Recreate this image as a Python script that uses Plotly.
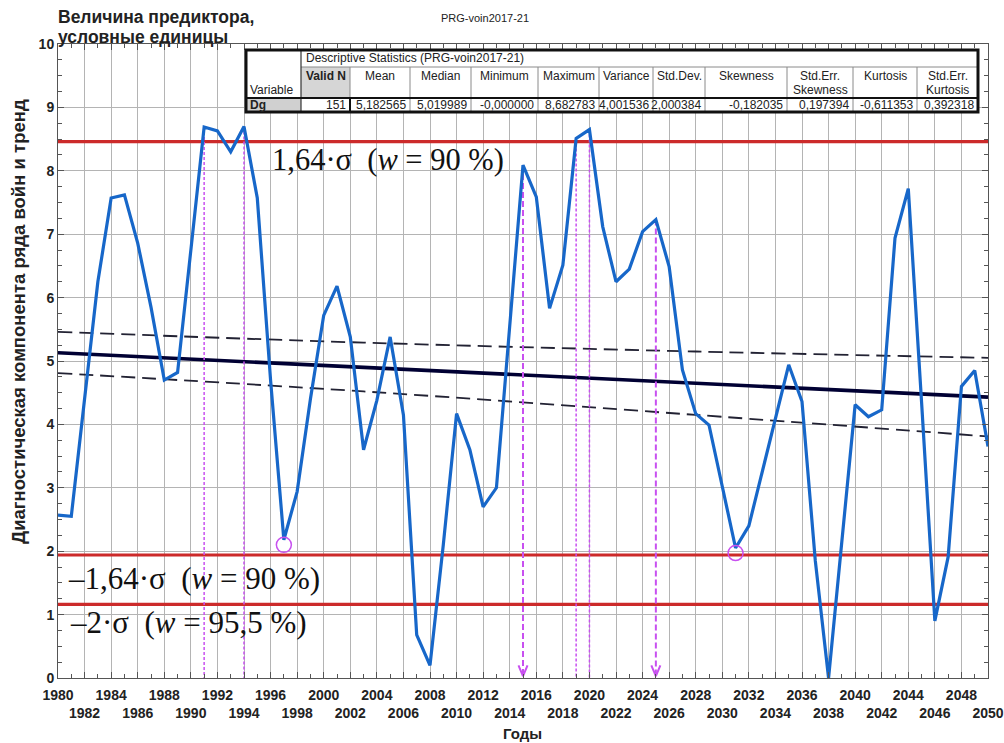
import plotly.graph_objects as go

# ---------------- data ----------------
years = list(range(1980, 2051))
values = [2.57, 2.55, 4.40, 6.25, 7.57, 7.62, 6.86, 5.85, 4.70, 4.82,
          6.75, 8.69, 8.63, 8.30, 8.70, 7.57, 4.70, 2.18, 2.94, 4.40,
          5.72, 6.18, 5.38, 3.60, 4.38, 5.38, 4.15, 0.68, 0.20, 2.10,
          4.17, 3.60, 2.70, 3.00, 5.55, 8.09, 7.59, 5.83, 6.51, 8.51,
          8.65, 7.12, 6.25, 6.45, 7.04, 7.23, 6.49, 4.86, 4.17, 3.99,
          3.02, 2.05, 2.40, 3.25, 4.09, 4.94, 4.36, 1.85, 0.00, 2.15,
          4.31, 4.12, 4.23, 6.94, 7.72, 4.35, 0.90, 1.91, 4.60, 4.85,
          3.65]

trend_x = [1980, 2050]
trend_y = [5.13, 4.43]
band_x = [1980, 2003, 2028, 2050]
band_upper = [5.46, 5.29, 5.15, 5.05]
band_lower = [4.81, 4.52, 4.15, 3.81]

sigma_levels = [8.46, 1.94, 1.16]
sigma_labels = ["1,64·σ\u00a0\u00a0(<i>w</i> = 90 %)",
                "–1,64·σ\u00a0\u00a0(<i>w</i> = 90 %)",
                "–2·σ\u00a0\u00a0(<i>w</i> = 95,5 %)"]

dotted_years = [1991, 1994, 2019, 2020]
arrow_years = [2015, 2025]
circle_years = [1997, 2031]
circle_vals = [2.10, 1.97]

x_tick_vals = list(range(1980, 2051, 2))
x_tick_text = [str(v) if i % 2 == 0 else "<br>" + str(v) for i, v in enumerate(x_tick_vals)]

table_cols = [246, 301, 350, 410, 471, 538, 599, 653, 705, 787, 853, 917, 978]
table_headers = ["Variable", "Valid N", "Mean", "Median", "Minimum", "Maximum", "Variance",
                 "Std.Dev.", "Skewness", "Std.Err.|Skewness", "Kurtosis", "Std.Err.|Kurtosis"]
table_values = ["Dg", "151", "5,182565", "5,019989", "-0,000000", "8,682783", "4,001536",
                "2,000384", "-0,182035", "0,197394", "-0,611353", "0,392318"]

# ---------------- geometry helpers ----------------
W, H = 1004, 743
L, R, T, B = 58, 988, 44, 678


def PX(p):
    return (p - L) / (R - L)


def PY(p):
    return (B - p) / (B - T)


val_of = dict(zip(years, values))
MAG = "#c850f0"
BLUE = "#1767c9"
RED = "#cc2a2a"

fig = go.Figure()

# sigma lines
for lv in sigma_levels:
    fig.add_trace(go.Scatter(x=[years[0], years[-1]], y=[lv, lv], mode="lines",
                             line=dict(color=RED, width=3.2), hoverinfo="skip", showlegend=False))

# trend and band
for band in (band_upper, band_lower):
    fig.add_trace(go.Scatter(x=band_x, y=band, mode="lines",
                             line=dict(color="#222233", width=1.8, dash="14px,7px", shape="spline"),
                             showlegend=False))
fig.add_trace(go.Scatter(x=trend_x, y=trend_y, mode="lines", line=dict(color="#000033", width=3.6), showlegend=False))

# magenta verticals
for yr in dotted_years:
    fig.add_trace(go.Scatter(x=[yr, yr], y=[val_of[yr], 0], mode="lines",
                             line=dict(color=MAG, width=1.5, dash="3px,2px"), showlegend=False))
for yr in arrow_years:
    fig.add_trace(go.Scatter(x=[yr, yr], y=[val_of[yr], 0.04], mode="lines",
                             line=dict(color=MAG, width=2, dash="6px,3px"), showlegend=False))
    fig.add_trace(go.Scatter(x=[yr - 0.34, yr, yr + 0.34], y=[0.2, 0.03, 0.2], mode="lines",
                             line=dict(color=MAG, width=2), showlegend=False))

# main series
fig.add_trace(go.Scatter(x=years, y=values, mode="lines", line=dict(color=BLUE, width=3.2), showlegend=False))

# circles
fig.add_trace(go.Scatter(x=circle_years, y=circle_vals, mode="markers",
                         marker=dict(symbol="circle-open", size=15, color=MAG, line=dict(width=1.5, color=MAG)),
                         showlegend=False))

tickfont = dict(family="Liberation Sans", size=14, color="#222", weight="bold")
fig.update_layout(
    width=W, height=H,
    margin=dict(l=L, r=W - R, t=T, b=H - B, autoexpand=False),
    paper_bgcolor="white", plot_bgcolor="white",
    xaxis=dict(range=[1980, 2050], tickvals=x_tick_vals, ticktext=x_tick_text, tickfont=tickfont,
               tickangle=0, automargin=False, ticklabelstandoff=4,
               showgrid=True, gridcolor="#b4b4b4", gridwidth=1, zeroline=False,
               showline=True, linecolor="#555", linewidth=1, mirror="ticks",
               ticks="inside", ticklen=6, tickcolor="#555",
               minor=dict(dtick=1, ticks="inside", ticklen=4, tickcolor="#555", showgrid=False)),
    yaxis=dict(range=[0, 10], dtick=1, tickfont=tickfont, automargin=False,
               showgrid=True, gridcolor="#b4b4b4", gridwidth=1, zeroline=False,
               showline=True, linecolor="#555", linewidth=1, mirror="ticks",
               ticks="inside", ticklen=6, tickcolor="#555",
               minor=dict(dtick=0.25, ticks="inside", ticklen=4, tickcolor="#555", showgrid=False)),
)

ann = []
# sigma labels
sig_pos = [(270, 160), (66, 578), (68, 622)]
sig_size = [30.5, 31, 31]
for (px, py), txt, sz in zip(sig_pos, sigma_labels, sig_size):
    ann.append(dict(x=PX(px), y=PY(py), xref="paper", yref="paper", text=txt, showarrow=False,
                    xanchor="left", yanchor="middle",
                    font=dict(family="Liberation Serif", size=sz, color="#111")))

# titles
ann.append(dict(x=PX(485), y=PY(18), xref="paper", yref="paper", text="PRG-voin2017-21", showarrow=False,
                xanchor="center", yanchor="middle", font=dict(family="Liberation Sans", size=11, color="#222")))
for txt, cy in (("Величина предиктора,", 17), ("условные единицы", 37)):
    ann.append(dict(x=PX(56), y=PY(cy), xref="paper", yref="paper", text=txt, showarrow=False,
                    xanchor="left", yanchor="middle",
                    font=dict(family="Liberation Sans", size=17.5, color="#222", weight="bold")))
ann.append(dict(x=PX(522), y=PY(734), xref="paper", yref="paper", text="Годы", showarrow=False,
                xanchor="center", yanchor="middle",
                font=dict(family="Liberation Sans", size=15, color="#222", weight="bold")))
ann.append(dict(x=PX(18), y=PY(322), xref="paper", yref="paper",
                text="Диагностическая компонента ряда войн и тренд", showarrow=False, textangle=-90,
                xanchor="center", yanchor="middle",
                font=dict(family="Liberation Sans", size=18.5, color="#222", weight="bold")))

# ---------------- table ----------------
shapes = []
TT, TH, TD, TB = 50, 67, 98, 112


def rect(x0, y0, x1, y1, fill, lc="rgba(0,0,0,0)", lw=0):
    shapes.append(dict(type="rect", xref="paper", yref="paper", x0=PX(x0), x1=PX(x1), y0=PY(y1), y1=PY(y0),
                       fillcolor=fill, line=dict(color=lc, width=lw), layer="above"))


def line(x0, y0, x1, y1, color="#8a8a8a", w=1):
    shapes.append(dict(type="line", xref="paper", yref="paper", x0=PX(x0), x1=PX(x1), y0=PY(y0), y1=PY(y1),
                       line=dict(color=color, width=w), layer="above"))


rect(table_cols[0], TT, table_cols[-1], TB, "white")
rect(table_cols[1], TH, table_cols[2], TD, "#d6d6d6")
rect(table_cols[0], TD, table_cols[1], TB, "#d0d0d0")
line(table_cols[1], TH, table_cols[-1], TH)
line(table_cols[1], TT, table_cols[1], TB, "#333", 1.2)
for cx in table_cols[2:-1]:
    line(cx, TH, cx, TB)
line(table_cols[2], TD, table_cols[2], TB, "#111", 2)
line(table_cols[0], TD, table_cols[-1], TD, "#111", 1.8)
rect(table_cols[0], TT, table_cols[-1], TB, "rgba(0,0,0,0)", "#111", 3)

tf = dict(family="Liberation Sans", size=12, color="#222")
ann.append(dict(x=PX(table_cols[1] + 3), y=PY(58.5), xref="paper", yref="paper",
                text="Descriptive Statistics (PRG-voin2017-21)", showarrow=False,
                xanchor="left", yanchor="middle", font=tf))
for i, h in enumerate(table_headers):
    if i == 0:
        ann.append(dict(x=PX(table_cols[0] + 2), y=PY(90), xref="paper", yref="paper", text=h,
                        showarrow=False, xanchor="left", yanchor="middle", font=tf))
        continue
    cx = (table_cols[i] + table_cols[i + 1]) / 2
    f = dict(tf, weight="bold") if i == 1 else tf
    for k, part in enumerate(h.split("|")):
        ann.append(dict(x=PX(cx), y=PY(75.5 + 14 * k), xref="paper", yref="paper", text=part, showarrow=False,
                        xanchor="center", yanchor="middle", font=f))
for i, v in enumerate(table_values):
    if i == 0:
        ann.append(dict(x=PX(table_cols[0] + 2), y=PY(105), xref="paper", yref="paper", text=v,
                        showarrow=False, xanchor="left", yanchor="middle", font=dict(tf, weight="bold")))
        continue
    ann.append(dict(x=PX(table_cols[i + 1] - 2), y=PY(105), xref="paper", yref="paper", text=v,
                    showarrow=False, xanchor="right", yanchor="middle", font=tf))

fig.update_layout(annotations=ann, shapes=shapes)
fig.write_html("out.html")
